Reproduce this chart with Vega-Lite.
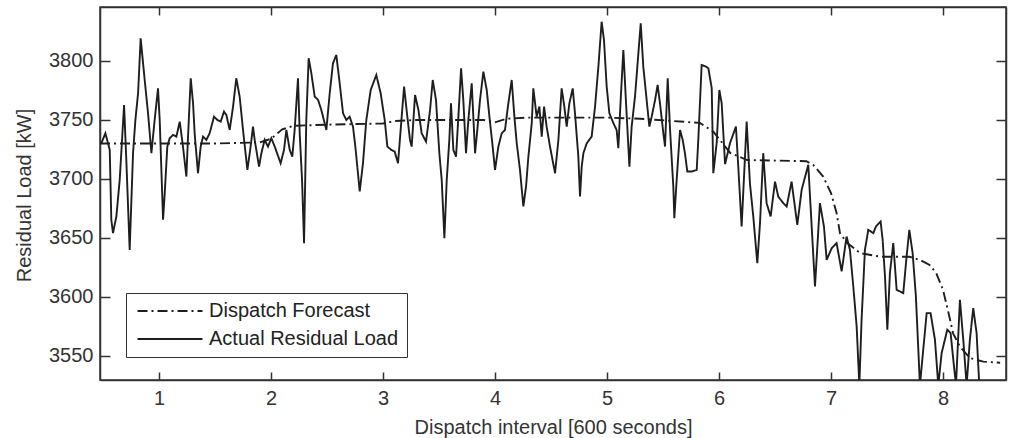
{
 "$schema": "https://vega.github.io/schema/vega-lite/v6.json",
 "width": 906, "height": 373,
 "autosize": "none",
 "padding": {"left": 100, "top": 7, "right": 7, "bottom": 58},
 "background": "white",
 "config": {
  "view": {"stroke": "#333", "strokeWidth": 1.5},
  "font": "Liberation Sans",
  "axis": {"domainColor": "#333", "domainWidth": 1.5, "tickColor": "#333", "tickWidth": 1.5, "labelFont": "Liberation Sans", "labelFontSize": 20, "labelColor": "#333", "titleFont": "Liberation Sans", "titleFontSize": 20, "titleFontWeight": "normal", "titleColor": "#333", "grid": false}
 },
 "data": {"values": [
  {"x":0.473,"y":3730,"s":"F"},{"x":1.0,"y":3730,"s":"F"},{"x":1.5,"y":3730,"s":"F"},{"x":1.9,"y":3731,"s":"F"},{"x":2.0,"y":3734,"s":"F"},{"x":2.1,"y":3742,"s":"F"},{"x":2.2,"y":3745,"s":"F"},{"x":2.5,"y":3746,"s":"F"},{"x":3.0,"y":3747,"s":"F"},{"x":3.1,"y":3749,"s":"F"},{"x":3.3,"y":3750,"s":"F"},{"x":3.9,"y":3750,"s":"F"},{"x":4.0,"y":3748,"s":"F"},{"x":4.1,"y":3751,"s":"F"},{"x":4.3,"y":3752,"s":"F"},{"x":5.0,"y":3752,"s":"F"},{"x":5.3,"y":3751,"s":"F"},{"x":5.6,"y":3749,"s":"F"},{"x":5.83,"y":3747.5,"s":"F"},{"x":5.95,"y":3740,"s":"F"},{"x":6.1,"y":3722,"s":"F"},{"x":6.25,"y":3716,"s":"F"},{"x":6.78,"y":3715,"s":"F"},{"x":6.84,"y":3712,"s":"F"},{"x":6.93,"y":3702,"s":"F"},{"x":7.0,"y":3688,"s":"F"},{"x":7.05,"y":3671,"s":"F"},{"x":7.08,"y":3654,"s":"F"},{"x":7.14,"y":3646,"s":"F"},{"x":7.26,"y":3637,"s":"F"},{"x":7.44,"y":3634,"s":"F"},{"x":7.7,"y":3634,"s":"F"},{"x":7.8,"y":3631,"s":"F"},{"x":7.88,"y":3627,"s":"F"},{"x":7.94,"y":3620,"s":"F"},{"x":8.0,"y":3606,"s":"F"},{"x":8.05,"y":3586,"s":"F"},{"x":8.09,"y":3569,"s":"F"},{"x":8.15,"y":3558,"s":"F"},{"x":8.24,"y":3548,"s":"F"},{"x":8.36,"y":3545,"s":"F"},{"x":8.51,"y":3544,"s":"F"},
  {"x":0.485,"y":3730.2,"s":"A"},{"x":0.521,"y":3738.7,"s":"A"},{"x":0.560,"y":3724.6,"s":"A"},{"x":0.574,"y":3665.3,"s":"A"},{"x":0.589,"y":3654.0,"s":"A"},{"x":0.619,"y":3668.1,"s":"A"},{"x":0.649,"y":3699.2,"s":"A"},{"x":0.688,"y":3762.7,"s":"A"},{"x":0.708,"y":3716.1,"s":"A"},{"x":0.738,"y":3639.8,"s":"A"},{"x":0.768,"y":3721.8,"s":"A"},{"x":0.789,"y":3750.0,"s":"A"},{"x":0.813,"y":3772.6,"s":"A"},{"x":0.836,"y":3819.2,"s":"A"},{"x":0.872,"y":3783.9,"s":"A"},{"x":0.902,"y":3755.7,"s":"A"},{"x":0.932,"y":3721.8,"s":"A"},{"x":0.961,"y":3750.0,"s":"A"},{"x":0.991,"y":3776.8,"s":"A"},{"x":1.006,"y":3750.0,"s":"A"},{"x":1.036,"y":3665.3,"s":"A"},{"x":1.051,"y":3687.9,"s":"A"},{"x":1.074,"y":3727.4,"s":"A"},{"x":1.095,"y":3734.5,"s":"A"},{"x":1.125,"y":3737.3,"s":"A"},{"x":1.155,"y":3735.9,"s":"A"},{"x":1.185,"y":3748.6,"s":"A"},{"x":1.214,"y":3727.4,"s":"A"},{"x":1.244,"y":3702.0,"s":"A"},{"x":1.259,"y":3735.9,"s":"A"},{"x":1.283,"y":3785.3,"s":"A"},{"x":1.304,"y":3764.1,"s":"A"},{"x":1.318,"y":3738.7,"s":"A"},{"x":1.348,"y":3704.8,"s":"A"},{"x":1.372,"y":3727.4,"s":"A"},{"x":1.393,"y":3735.9,"s":"A"},{"x":1.423,"y":3733.1,"s":"A"},{"x":1.452,"y":3738.7,"s":"A"},{"x":1.491,"y":3752.8,"s":"A"},{"x":1.521,"y":3750.0,"s":"A"},{"x":1.551,"y":3748.6,"s":"A"},{"x":1.580,"y":3757.1,"s":"A"},{"x":1.601,"y":3754.2,"s":"A"},{"x":1.631,"y":3741.5,"s":"A"},{"x":1.661,"y":3761.3,"s":"A"},{"x":1.690,"y":3785.3,"s":"A"},{"x":1.720,"y":3769.8,"s":"A"},{"x":1.750,"y":3741.5,"s":"A"},{"x":1.789,"y":3707.6,"s":"A"},{"x":1.818,"y":3727.4,"s":"A"},{"x":1.839,"y":3744.3,"s":"A"},{"x":1.854,"y":3733.1,"s":"A"},{"x":1.893,"y":3710.4,"s":"A"},{"x":1.914,"y":3721.8,"s":"A"},{"x":1.943,"y":3733.1,"s":"A"},{"x":1.973,"y":3727.4,"s":"A"},{"x":2.003,"y":3734.5,"s":"A"},{"x":2.033,"y":3727.4,"s":"A"},{"x":2.086,"y":3713.3,"s":"A"},{"x":2.116,"y":3724.6,"s":"A"},{"x":2.137,"y":3741.5,"s":"A"},{"x":2.167,"y":3724.6,"s":"A"},{"x":2.190,"y":3718.9,"s":"A"},{"x":2.211,"y":3741.5,"s":"A"},{"x":2.241,"y":3785.3,"s":"A"},{"x":2.256,"y":3738.7,"s":"A"},{"x":2.277,"y":3699.2,"s":"A"},{"x":2.295,"y":3645.5,"s":"A"},{"x":2.315,"y":3750.0,"s":"A"},{"x":2.336,"y":3802.3,"s":"A"},{"x":2.360,"y":3789.6,"s":"A"},{"x":2.390,"y":3769.8,"s":"A"},{"x":2.420,"y":3767.0,"s":"A"},{"x":2.449,"y":3758.5,"s":"A"},{"x":2.494,"y":3741.5,"s":"A"},{"x":2.524,"y":3772.6,"s":"A"},{"x":2.553,"y":3798.0,"s":"A"},{"x":2.583,"y":3805.1,"s":"A"},{"x":2.613,"y":3781.1,"s":"A"},{"x":2.643,"y":3755.7,"s":"A"},{"x":2.672,"y":3750.0,"s":"A"},{"x":2.702,"y":3752.8,"s":"A"},{"x":2.732,"y":3744.3,"s":"A"},{"x":2.753,"y":3727.4,"s":"A"},{"x":2.792,"y":3689.3,"s":"A"},{"x":2.821,"y":3713.3,"s":"A"},{"x":2.851,"y":3750.0,"s":"A"},{"x":2.890,"y":3775.4,"s":"A"},{"x":2.940,"y":3788.1,"s":"A"},{"x":2.979,"y":3772.6,"s":"A"},{"x":3.015,"y":3750.0,"s":"A"},{"x":3.039,"y":3727.4,"s":"A"},{"x":3.074,"y":3724.6,"s":"A"},{"x":3.104,"y":3723.2,"s":"A"},{"x":3.134,"y":3713.3,"s":"A"},
  {"x":3.188,"y":3778.3,"s":"A"},{"x":3.217,"y":3752.8,"s":"A"},{"x":3.241,"y":3733.0,"s":"A"},{"x":3.256,"y":3727.4,"s":"A"},{"x":3.286,"y":3771.2,"s":"A"},{"x":3.316,"y":3758.5,"s":"A"},{"x":3.345,"y":3738.7,"s":"A"},{"x":3.384,"y":3731.6,"s":"A"},{"x":3.420,"y":3758.5,"s":"A"},{"x":3.444,"y":3783.9,"s":"A"},{"x":3.473,"y":3766.9,"s":"A"},{"x":3.503,"y":3721.7,"s":"A"},{"x":3.524,"y":3699.2,"s":"A"},{"x":3.548,"y":3649.7,"s":"A"},{"x":3.569,"y":3699.2,"s":"A"},{"x":3.592,"y":3733.0,"s":"A"},{"x":3.607,"y":3764.1,"s":"A"},{"x":3.628,"y":3724.6,"s":"A"},{"x":3.652,"y":3718.9,"s":"A"},{"x":3.673,"y":3752.8,"s":"A"},{"x":3.697,"y":3793.8,"s":"A"},{"x":3.717,"y":3766.9,"s":"A"},{"x":3.741,"y":3721.7,"s":"A"},{"x":3.762,"y":3750.0,"s":"A"},{"x":3.792,"y":3781.1,"s":"A"},{"x":3.822,"y":3721.7,"s":"A"},{"x":3.842,"y":3741.5,"s":"A"},{"x":3.866,"y":3766.9,"s":"A"},{"x":3.896,"y":3791.0,"s":"A"},{"x":3.926,"y":3775.4,"s":"A"},{"x":3.950,"y":3752.8,"s":"A"},{"x":3.979,"y":3727.4,"s":"A"},{"x":4.000,"y":3707.6,"s":"A"},{"x":4.030,"y":3727.4,"s":"A"},{"x":4.060,"y":3738.7,"s":"A"},{"x":4.089,"y":3741.5,"s":"A"},{"x":4.119,"y":3764.1,"s":"A"},{"x":4.149,"y":3783.9,"s":"A"},{"x":4.173,"y":3752.8,"s":"A"},{"x":4.194,"y":3730.2,"s":"A"},{"x":4.223,"y":3707.6,"s":"A"},{"x":4.253,"y":3676.6,"s":"A"},{"x":4.277,"y":3693.5,"s":"A"},{"x":4.298,"y":3718.9,"s":"A"},{"x":4.328,"y":3747.2,"s":"A"},{"x":4.342,"y":3776.8,"s":"A"},{"x":4.372,"y":3752.8,"s":"A"},{"x":4.396,"y":3761.3,"s":"A"},{"x":4.417,"y":3735.9,"s":"A"},{"x":4.438,"y":3761.3,"s":"A"},{"x":4.461,"y":3744.3,"s":"A"},{"x":4.491,"y":3727.4,"s":"A"},{"x":4.536,"y":3704.8,"s":"A"},{"x":4.566,"y":3733.0,"s":"A"},{"x":4.595,"y":3776.8,"s":"A"},{"x":4.619,"y":3761.3,"s":"A"},{"x":4.640,"y":3744.3,"s":"A"},{"x":4.664,"y":3764.1,"s":"A"},{"x":4.694,"y":3776.8,"s":"A"},{"x":4.714,"y":3755.7,"s":"A"},{"x":4.744,"y":3718.9,"s":"A"},{"x":4.759,"y":3685.0,"s":"A"},{"x":4.774,"y":3710.4,"s":"A"},{"x":4.789,"y":3721.7,"s":"A"},{"x":4.819,"y":3730.2,"s":"A"},{"x":4.863,"y":3735.9,"s":"A"},{"x":4.893,"y":3761.3,"s":"A"},{"x":4.923,"y":3795.2,"s":"A"},{"x":4.952,"y":3833.3,"s":"A"},{"x":4.973,"y":3817.8,"s":"A"},{"x":4.997,"y":3778.3,"s":"A"},{"x":5.021,"y":3755.7,"s":"A"},{"x":5.057,"y":3747.2,"s":"A"},{"x":5.086,"y":3741.5,"s":"A"},{"x":5.101,"y":3726.0,"s":"A"},{"x":5.122,"y":3767.0,"s":"A"},{"x":5.146,"y":3809.3,"s":"A"},{"x":5.170,"y":3764.1,"s":"A"},{"x":5.200,"y":3710.4,"s":"A"},{"x":5.220,"y":3744.3,"s":"A"},{"x":5.250,"y":3769.8,"s":"A"},{"x":5.280,"y":3806.5,"s":"A"},{"x":5.301,"y":3831.9,"s":"A"},{"x":5.324,"y":3795.2,"s":"A"},{"x":5.354,"y":3766.9,"s":"A"},{"x":5.378,"y":3744.3,"s":"A"},{"x":5.399,"y":3752.8,"s":"A"},{"x":5.429,"y":3766.9,"s":"A"},{"x":5.452,"y":3779.7,"s":"A"},{"x":5.473,"y":3764.1,"s":"A"},{"x":5.503,"y":3738.7,"s":"A"},{"x":5.518,"y":3727.4,"s":"A"},{"x":5.542,"y":3785.3,"s":"A"},{"x":5.563,"y":3741.5,"s":"A"},{"x":5.592,"y":3693.5,"s":"A"},{"x":5.601,"y":3666.7,"s":"A"},{"x":5.622,"y":3699.2,"s":"A"},{"x":5.652,"y":3741.5,"s":"A"},{"x":5.676,"y":3733.0,"s":"A"},{"x":5.696,"y":3721.7,"s":"A"},{"x":5.717,"y":3706.2,"s":"A"},{"x":5.756,"y":3706.2,"s":"A"},{"x":5.801,"y":3707.6,"s":"A"},{"x":5.815,"y":3733.0,"s":"A"},{"x":5.845,"y":3796.6,"s":"A"},{"x":5.884,"y":3795.2,"s":"A"},
  {"x":5.905,"y":3793.8,"s":"A"},{"x":5.935,"y":3776.9,"s":"A"},{"x":5.949,"y":3704.8,"s":"A"},{"x":5.979,"y":3730.2,"s":"A"},{"x":6.003,"y":3775.4,"s":"A"},{"x":6.024,"y":3764.1,"s":"A"},{"x":6.054,"y":3712.5,"s":"A"},
  {"x":6.098,"y":3730.2,"s":"A"},{"x":6.151,"y":3744.4,"s":"A"},{"x":6.172,"y":3710.5,"s":"A"},{"x":6.202,"y":3659.6,"s":"A"},{"x":6.247,"y":3748.6,"s":"A"},{"x":6.276,"y":3696.3,"s":"A"},{"x":6.306,"y":3668.1,"s":"A"},{"x":6.342,"y":3628.5,"s":"A"},{"x":6.366,"y":3662.4,"s":"A"},{"x":6.395,"y":3721.8,"s":"A"},{"x":6.425,"y":3679.4,"s":"A"},{"x":6.461,"y":3668.1,"s":"A"},{"x":6.500,"y":3697.7,"s":"A"},{"x":6.529,"y":3685.0,"s":"A"},{"x":6.574,"y":3679.4,"s":"A"},{"x":6.604,"y":3676.6,"s":"A"},{"x":6.648,"y":3697.7,"s":"A"},{"x":6.699,"y":3661.0,"s":"A"},{"x":6.738,"y":3690.7,"s":"A"},{"x":6.797,"y":3711.9,"s":"A"},{"x":6.857,"y":3608.8,"s":"A"},{"x":6.901,"y":3679.4,"s":"A"},{"x":6.937,"y":3659.6,"s":"A"},{"x":6.961,"y":3631.3,"s":"A"},{"x":7.006,"y":3641.2,"s":"A"},{"x":7.050,"y":3645.5,"s":"A"},{"x":7.095,"y":3621.5,"s":"A"},{"x":7.139,"y":3651.1,"s":"A"},{"x":7.169,"y":3639.8,"s":"A"},{"x":7.199,"y":3608.8,"s":"A"},{"x":7.229,"y":3574.9,"s":"A"},{"x":7.253,"y":3525.0,"s":"A"},{"x":7.273,"y":3580.5,"s":"A"},{"x":7.303,"y":3639.8,"s":"A"},{"x":7.333,"y":3656.8,"s":"A"},{"x":7.378,"y":3654.0,"s":"A"},{"x":7.401,"y":3659.6,"s":"A"},{"x":7.443,"y":3663.8,"s":"A"},{"x":7.461,"y":3648.3,"s":"A"},{"x":7.482,"y":3617.2,"s":"A"},{"x":7.503,"y":3572.0,"s":"A"},{"x":7.526,"y":3620.0,"s":"A"},{"x":7.556,"y":3645.5,"s":"A"},{"x":7.586,"y":3605.9,"s":"A"},{"x":7.645,"y":3603.1,"s":"A"},{"x":7.675,"y":3634.2,"s":"A"},{"x":7.699,"y":3656.8,"s":"A"},{"x":7.729,"y":3637.0,"s":"A"},{"x":7.758,"y":3600.3,"s":"A"},{"x":7.794,"y":3525.0,"s":"A"},{"x":7.854,"y":3586.1,"s":"A"},{"x":7.889,"y":3586.1,"s":"A"},{"x":7.928,"y":3563.6,"s":"A"},{"x":7.958,"y":3525.0,"s":"A"},{"x":7.988,"y":3552.3,"s":"A"},{"x":8.038,"y":3572.0,"s":"A"},{"x":8.068,"y":3569.2,"s":"A"},{"x":8.092,"y":3546.6,"s":"A"},{"x":8.116,"y":3525.0,"s":"A"},{"x":8.151,"y":3597.4,"s":"A"},{"x":8.181,"y":3563.6,"s":"A"},{"x":8.211,"y":3525.0,"s":"A"},{"x":8.240,"y":3563.6,"s":"A"},{"x":8.270,"y":3590.4,"s":"A"},{"x":8.300,"y":3569.2,"s":"A"},{"x":8.324,"y":3525.0,"s":"A"}
 ]},
 "layer": [
  {
   "mark": {"type": "line", "clip": true, "strokeWidth": 1.9, "color": "#1e1e1e"},
   "encoding": {
    "x": {"field": "x", "type": "quantitative", "scale": {"domain": [0.473, 8.5625], "nice": false, "zero": false},
          "axis": {"orient": "bottom", "values": [1,2,3,4,5,6,7,8], "format": "d", "tickSize": -8, "labelPadding": 16, "labelFlush": false, "title": "Dispatch interval [600 seconds]", "titleY": 37}},
    "y": {"field": "y", "type": "quantitative", "scale": {"domain": [3529.4, 3845.8], "nice": false, "zero": false},
          "axis": {"orient": "left", "values": [3550,3600,3650,3700,3750,3800], "format": "d", "tickSize": -10, "labelPadding": 17, "labelFlush": false, "title": "Residual Load [kW]", "titleX": -66, "titleY": 188}},
    "strokeDash": {"field": "s", "type": "nominal",
       "scale": {"domain": ["F", "A"], "range": [[10,4,2,4],[1,0]]},
       "legend": {"orient": "none", "legendX": 26, "legendY": 286, "title": null, "direction": "vertical",
                  "labelExpr": "datum.label == 'F' ? 'Dispatch Forecast' : 'Actual Residual Load'",
                  "fillColor": "white", "strokeColor": "#333", "padding": 8, "cornerRadius": 0,
                  "labelFont": "Liberation Sans", "labelFontSize": 20, "labelColor": "#222", "labelLimit": 400,
                  "symbolType": "M-5,0H5", "symbolSize": 169, "symbolStrokeWidth": 1.8, "symbolStrokeColor": "#1e1e1e",
                  "symbolOffset": 26, "labelOffset": 29, "rowPadding": 8}}
   }
  },
  {
   "mark": {"type": "line", "opacity": 0, "clip": true},
   "encoding": {
    "x": {"field": "x", "type": "quantitative", "axis": {"orient": "top", "values": [1,2,3,4,5,6,7,8], "labels": false, "title": null, "tickSize": -8}},
    "y": {"field": "y", "type": "quantitative", "axis": {"orient": "right", "values": [3550,3600,3650,3700,3750,3800], "labels": false, "title": null, "tickSize": -10}}
   }
  }
 ],
 "resolve": {"axis": {"x": "independent", "y": "independent"}}
}
